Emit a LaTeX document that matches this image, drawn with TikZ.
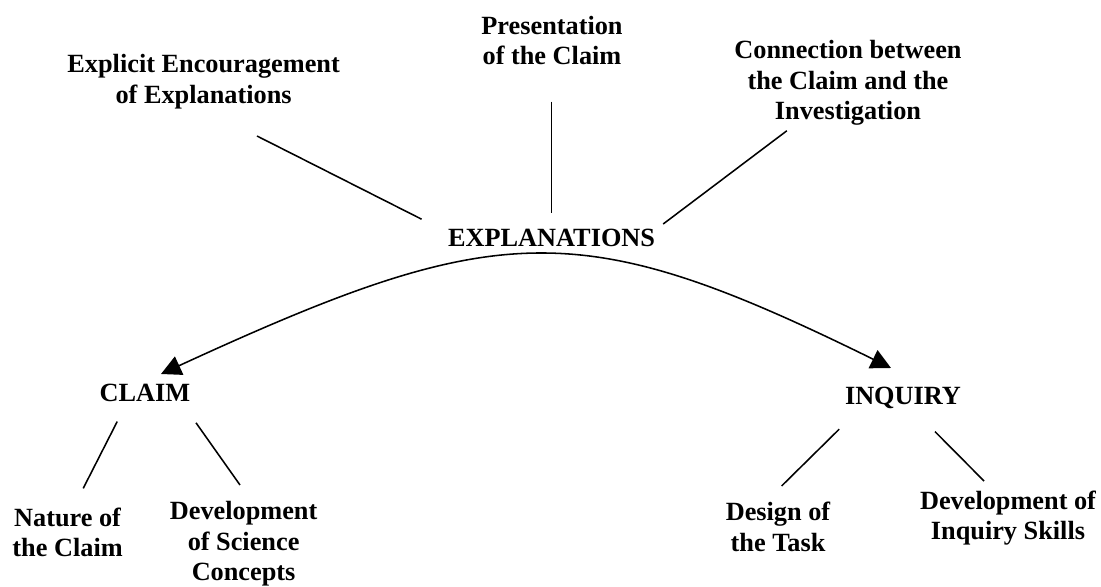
\documentclass[tikz,border=0pt]{standalone}
\usepackage{fontspec}
\setmainfont{Liberation Serif}
\usepackage{tikz}
\usetikzlibrary{arrows.meta,backgrounds}
\pgfdeclarelayer{edgelayer}
\pgfdeclarelayer{nodelayer}
\pgfsetlayers{background,edgelayer,nodelayer,main}
\tikzstyle{none}=[inner sep=0mm]
\tikzstyle{txt}=[inner sep=0mm,anchor=base,align=center,font=\fontsize{18.7}{21.8}\selectfont\bfseries]
\tikzstyle{link}=[line width=1.1pt]
\tikzstyle{twohead}=[line width=1.1pt,{Triangle[length=5mm,width=5mm]}-{Triangle[length=5mm,width=5mm]}]

\begin{document}
\begin{tikzpicture}
	\useasboundingbox (0, 0) rectangle (27.525, -14.675);
	\begin{pgfonlayer}{nodelayer}
		\node [style=txt] (explicit) at (5.09, -2.59) {Explicit Encouragement\\of Explanations};
		\node [style=txt] (presentation) at (13.8, -1.625) {Presentation\\of the Claim};
		\node [style=txt] (connection) at (21.2, -3.0) {Connection between\\the Claim and the\\Investigation};
		\node [style=txt] (explanations) at (13.79, -6.17) {EXPLANATIONS};
		\node [style=txt] (claim) at (3.625, -10.05) {CLAIM};
		\node [style=txt] (inquiry) at (22.575, -10.125) {INQUIRY};
		\node [style=txt] (nature) at (1.69, -13.925) {Nature of\\the Claim};
		\node [style=txt] (science) at (6.09, -14.525) {Development\\of Science\\Concepts};
		\node [style=txt] (design) at (19.45, -13.79) {Design of\\the Task};
		\node [style=txt] (skills) at (25.2, -13.5) {Development of\\Inquiry Skills};
		% line ends
		\node [style=none] (e1) at (6.425, -3.4) {};
		\node [style=none] (e2) at (10.54, -5.48) {};
		\node [style=none] (p1) at (13.79, -2.54) {};
		\node [style=none] (p2) at (13.79, -5.33) {};
		\node [style=none] (c1) at (19.67, -3.27) {};
		\node [style=none] (c2) at (16.58, -5.6) {};
		\node [style=none] (cl1) at (2.93, -10.54) {};
		\node [style=none] (cl2) at (2.08, -12.21) {};
		\node [style=none] (cr1) at (4.9, -10.57) {};
		\node [style=none] (cr2) at (6.0, -12.125) {};
		\node [style=none] (il1) at (20.98, -10.73) {};
		\node [style=none] (il2) at (19.54, -12.15) {};
		\node [style=none] (ir1) at (23.375, -10.79) {};
		\node [style=none] (ir2) at (24.6, -12.025) {};
		\node [style=none] (ta) at (4.025, -9.35) {};
		\node [style=none] (tb) at (22.275, -9.2) {};
	\end{pgfonlayer}
	\begin{pgfonlayer}{edgelayer}
		\draw [style=link] (e1.center) to (e2.center);
		\draw [style=link] (p1.center) to (p2.center);
		\draw [style=link] (c1.center) to (c2.center);
		\draw [style=link] (cl1.center) to (cl2.center);
		\draw [style=link] (cr1.center) to (cr2.center);
		\draw [style=link] (il1.center) to (il2.center);
		\draw [style=link] (ir1.center) to (ir2.center);
		\draw [style=twohead] (ta.center) .. controls (12.5, -5.45) and (14.5, -5.375) .. (tb.center);
	\end{pgfonlayer}
\end{tikzpicture}
\end{document}
